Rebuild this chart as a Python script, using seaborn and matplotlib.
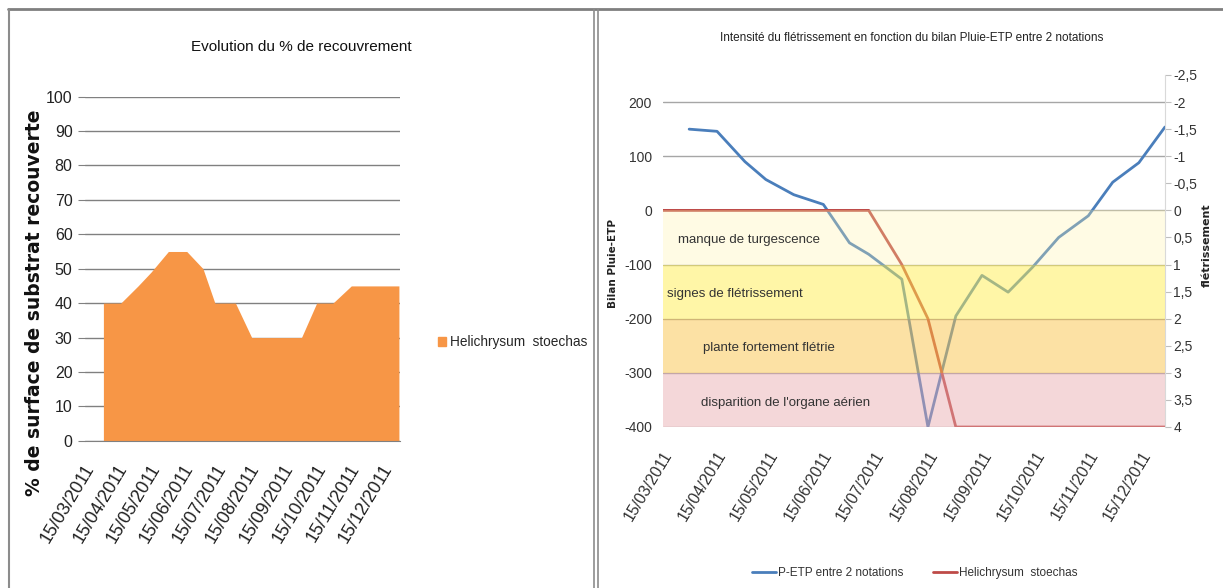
import pandas as pd
import numpy as np
import matplotlib
matplotlib.use("Agg")
import matplotlib.pyplot as plt
import matplotlib.transforms as mtransforms
import seaborn as sns
from matplotlib.lines import Line2D
from matplotlib.patches import Patch
from matplotlib.ticker import FuncFormatter

# dates des notations (jj/mm/aaaa)
notation_dates = ["27/03/2011", "12/04/2011", "28/04/2011", "10/05/2011", "26/05/2011",
                  "12/06/2011", "27/06/2011", "08/07/2011", "27/07/2011", "11/08/2011",
                  "27/08/2011", "11/09/2011", "26/09/2011", "10/10/2011", "25/10/2011",
                  "11/11/2011", "25/11/2011", "10/12/2011", "25/12/2011"]

# % de recouvrement (Helichrysum stoechas)
recouvrement = [40, 40, 45, 49, 55, 55, 50, 40, 40, 30, 30, 30, 30, 40, 40, 45, 45, 45, 45]

# bilan Pluie-ETP entre 2 notations
petp = [150, 146, 90, 57, 29, 11, -60, -81, -127, -400, -195, -120, -151, -105, -50, -10, 52, 88, 154]

# intensite du fletrissement
flet_dates = ["12/03/2011"] + notation_dates
fletrissement = [0, 0, 0, 0, 0, 0, 0, 0, 0, 1, 2, 4, 4, 4, 4, 4, 4, 4, 4, 4]

tick_labels = ["15/03/2011", "15/04/2011", "15/05/2011", "15/06/2011", "15/07/2011",
               "15/08/2011", "15/09/2011", "15/10/2011", "15/11/2011", "15/12/2011"]

band_names = ["manque de turgescence", "signes de flétrissement",
              "plante fortement flétrie", "disparition de l'organe aérien"]
band_limits = [0, 1, 2, 3, 4]

sns.set_style("white")
plt.rcParams['font.family'] = ['Liberation Sans', 'DejaVu Sans']
plt.rcParams['axes.unicode_minus'] = False

W, H = 1223, 588
fig = plt.figure(figsize=(W / 100, H / 100), dpi=100)

def box(x0, y0, x1, y1):
    return [x0 / W, 1 - y1 / H, (x1 - x0) / W, (y1 - y0) / H]

x_notes = pd.to_datetime(notation_dates, format="%d/%m/%Y")
x_flet = pd.to_datetime(flet_dates, format="%d/%m/%Y")
x_ticks = pd.to_datetime(tick_labels, format="%d/%m/%Y")

# ---------- graphique de gauche ----------
ax1 = fig.add_axes(box(85, 96.6, 400, 440.8))
ax1.fill_between(x_notes, recouvrement, 0, color="#F79646", lw=0, zorder=2)
ax1.set_ylim(0, 100)
ax1.set_xlim(pd.Timestamp("2011-03-10"), pd.Timestamp("2011-12-26"))
ax1.set_yticks(range(0, 101, 10))
ax1.yaxis.grid(True, color="#808080", lw=1)
ax1.set_axisbelow(True)
ax1.set_xticks(x_ticks)
ax1.set_xticklabels(tick_labels, rotation=59, ha="right", va="center",
                    rotation_mode="anchor", fontsize=13, color="#222222")
ax1.tick_params(axis="x", length=0, pad=18)
ax1.tick_params(axis="y", length=5, color="#808080", labelsize=11.5, pad=4, left=True)
for s in ["top", "right", "left"]:
    ax1.spines[s].set_visible(False)
ax1.spines["bottom"].set_color("#808080")
for t in ax1.get_yticklabels():
    t.set_color("#222222")

fig.text(301 / W, 1 - 47 / H, "Evolution du % de recouvrement", ha="center", va="center",
         fontsize=11, color="#111111")
fig.text(35 / W, 1 - 303 / H, "% de surface de substrat recouverte", rotation=90,
         ha="center", va="center", fontsize=13.5, fontweight="bold",
         family=["DejaVu Sans"], color="#111111")
ax1.legend(handles=[Patch(color="#F79646", label="Helichrysum  stoechas")],
           loc="center left", bbox_to_anchor=(426 / W, 1 - 342 / H),
           bbox_transform=fig.transFigure, frameon=False, fontsize=9.8,
           handlelength=0.6, handleheight=0.6, handletextpad=0.3)

# ---------- graphique de droite ----------
ax2 = fig.add_axes(box(663, 75, 1165, 427))
sns.lineplot(x=x_notes, y=petp, ax=ax2, color="#4A7EBB", lw=2, legend=False)
ax2.set_ylim(-400, 250)
ax2.set_yticks(range(-400, 201, 100))
ax2.yaxis.grid(True, color="#A6A6A6", lw=1)
ax2.set_axisbelow(True)
ax2.set_xlim(pd.Timestamp("2011-03-12"), pd.Timestamp("2011-12-25"))
ax2.set_xticks(x_ticks)
ax2.set_xticklabels(tick_labels, rotation=59, ha="right", va="center",
                    rotation_mode="anchor", fontsize=11.5, color="#333333")
ax2.tick_params(axis="x", length=0, pad=18)
ax2.tick_params(axis="y", length=0, labelsize=10, pad=8)
ax2.set_xlabel("")
ax2.set_ylabel("")
for s in ["top", "right", "left", "bottom"]:
    ax2.spines[s].set_visible(False)
for t in ax2.get_yticklabels():
    t.set_color("#333333")

ax3 = ax2.twinx()
sns.lineplot(x=x_flet, y=fletrissement, ax=ax3, color="#BE4B48", lw=2, legend=False, zorder=2)
ax3.set_ylim(4, -2.5)
ax3.set_yticks(np.arange(-2.5, 4.01, 0.5))
ax3.yaxis.set_major_formatter(FuncFormatter(lambda v, p: ("%g" % v).replace(".", ",")))
ax3.tick_params(axis="y", length=4, color="#BFBFBF", labelsize=10, pad=2)
ax3.set_ylabel("")
for s in ["top", "left", "bottom"]:
    ax3.spines[s].set_visible(False)
ax3.spines["right"].set_color("#D9D9D9")
for t in ax3.get_yticklabels():
    t.set_color("#333333")

band_colors = ["#FFF3A8", "#FFEE50", "#FBC54A", "#E8A8AC"]
band_alpha = [0.3, 0.5, 0.5, 0.45]
band_text_x = [678, 667, 703, 701]
trans = mtransforms.blended_transform_factory(ax3.transAxes, ax3.transData)
for i, name in enumerate(band_names):
    ax3.axhspan(band_limits[i], band_limits[i + 1], color=band_colors[i],
                alpha=band_alpha[i], lw=0, zorder=3)
    ax3.text((band_text_x[i] - 663) / (1165 - 663), (band_limits[i] + band_limits[i + 1]) / 2 + 0.05,
             name, transform=trans, ha="left", va="center", fontsize=9.5,
             color="#333333", zorder=4)

fig.text(912 / W, 1 - 38 / H,
         "Intensité du flétrissement en fonction du bilan Pluie-ETP entre 2 notations",
         ha="center", va="center", fontsize=8.5, color="#222222")
fig.text(613 / W, 1 - 263 / H, "Bilan Pluie-ETP", rotation=90, ha="center", va="center",
         fontsize=7.5, fontweight="bold", family=["DejaVu Sans"], color="#222222")
fig.text(1207 / W, 1 - 245 / H, "flétrissement", rotation=90, ha="center", va="center",
         fontsize=8, fontweight="bold", family=["DejaVu Sans"], color="#222222")

handles = [Line2D([], [], color="#4A7EBB", lw=2, label="P-ETP entre 2 notations"),
           Line2D([], [], color="#BE4B48", lw=2, label="Helichrysum  stoechas")]
fig.legend(handles=handles, loc="center", bbox_to_anchor=(915 / W, 1 - 573 / H),
           ncol=2, frameon=False, fontsize=8.5, handlelength=2, handletextpad=0.2,
           columnspacing=2.5, labelcolor="#333333")

# cadres
fig.add_artist(Line2D([8 / W, 1], [1 - 9 / H, 1 - 9 / H], transform=fig.transFigure,
                      color="#7F7F7F", lw=2))
fig.add_artist(Line2D([8.5 / W, 8.5 / W], [0, 1 - 9 / H], transform=fig.transFigure,
                      color="#8C8C8C", lw=1.5))
for xv in [594, 598]:
    fig.add_artist(Line2D([xv / W, xv / W], [0, 1 - 9 / H], transform=fig.transFigure,
                          color="#8C8C8C", lw=1.2))

fig.savefig("out.png", dpi=100)
